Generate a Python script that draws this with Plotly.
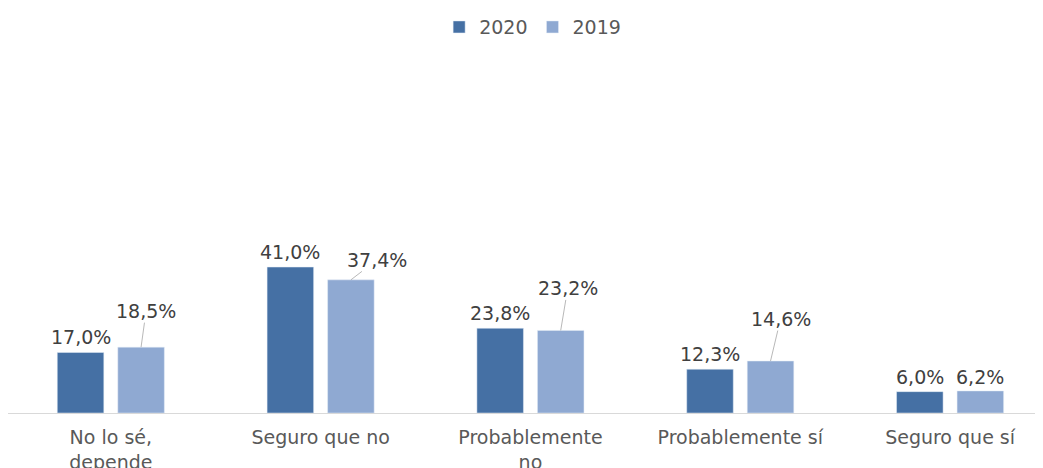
import plotly.graph_objects as go

categories = ["No lo sé,<br>depende", "Seguro que no", "Probablemente<br>no", "Probablemente sí", "Seguro que sí"]
series_names = ["2020", "2019"]
values_2020 = [17.0, 41.0, 23.8, 12.3, 6.0]
values_2019 = [18.5, 37.4, 23.2, 14.6, 6.2]

# layout / style (page body adds an 8px offset, compensated here)
W, H = 1043, 468
ML, MR, MT, MB = 0, 0, 49, 63
X_RANGE = [-0.49, 4.481]
Y_RANGE = [0, 100]
BARGAP = 0.423
BARGROUPGAP = 0.231
C2020 = "#4570A4"
C2019 = "#8FA9D2"
FONT = "DejaVu Sans"

def fmt(v):
    return f"{v:.1f}".replace(".", ",") + "%"

fig = go.Figure()
fig.add_trace(go.Bar(name=series_names[0], x=categories, y=values_2020,
                     marker_color=C2020, hoverinfo="skip"))
fig.add_trace(go.Bar(name=series_names[1], x=categories, y=values_2019,
                     marker_color=C2019, hoverinfo="skip"))

# pixel offset of each bar centre from the category centre
plot_w = W - ML - MR
cat_px = plot_w / (X_RANGE[1] - X_RANGE[0])
slot_px = cat_px * (1 - BARGAP) / 2
off = slot_px / 2

label_font = dict(family=FONT, size=19, color="#404040")

# 2020 labels: directly above bars
for c, v in zip(categories, values_2020):
    fig.add_annotation(x=c, y=v, text=fmt(v), showarrow=False, xshift=-off,
                       yshift=15, yanchor="middle", font=label_font)

# 2019 labels: some moved with leader lines (offsets in pixels)
leader_offsets = [(5, -36), (26, -20), (7, -42), (10, -42), None]
for c, v, lo in zip(categories, values_2019, leader_offsets):
    if lo is None:
        fig.add_annotation(x=c, y=v, text=fmt(v), showarrow=False, xshift=off,
                           yshift=14, yanchor="middle", font=label_font)
    else:
        fig.add_annotation(x=c, y=v, text=fmt(v), showarrow=True, xshift=off,
                           ax=lo[0], ay=lo[1], arrowhead=0, arrowwidth=0.8,
                           arrowcolor="#A6A6A6", standoff=0, borderpad=0,
                           font=label_font)

fig.update_layout(
    width=W, height=H,
    margin=dict(l=ML, r=MR, t=MT, b=MB, autoexpand=False),
    barmode="group", bargap=BARGAP, bargroupgap=BARGROUPGAP,
    plot_bgcolor="white", paper_bgcolor="white",
    font=dict(family=FONT, color="#595959"),
    showlegend=True,
    legend=dict(orientation="h", x=0.503, xanchor="center", y=1.084, yanchor="middle",
                font=dict(family=FONT, size=19, color="#595959"),
                itemwidth=30, traceorder="normal"),
    xaxis=dict(range=X_RANGE, showline=True, linecolor="#D9D9D9", linewidth=1,
               showgrid=False, ticks="", automargin=False, ticklabelstandoff=7,
               tickfont=dict(family=FONT, size=19, color="#595959"),
               fixedrange=True),
    yaxis=dict(range=Y_RANGE, visible=False, showgrid=False, zeroline=False,
               automargin=False, fixedrange=True),
)

fig.write_html("out.html")
